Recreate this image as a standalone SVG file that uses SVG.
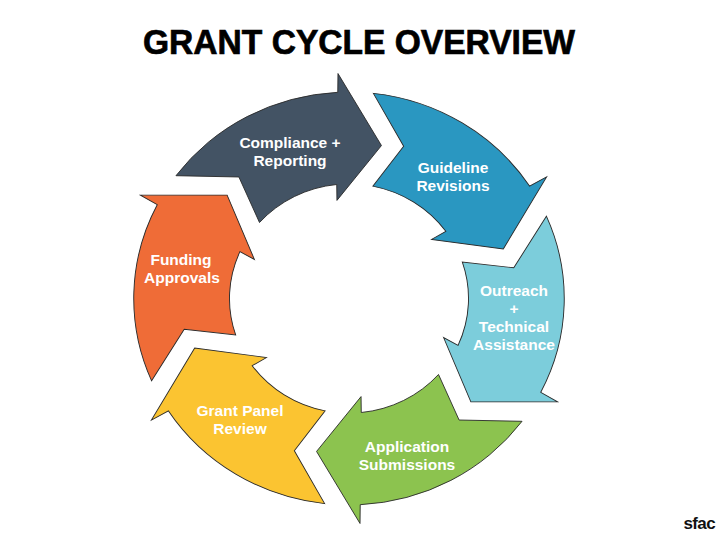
<svg xmlns="http://www.w3.org/2000/svg" xmlns:xlink="http://www.w3.org/1999/xlink" width="720" height="540" viewBox="0 0 720 540">
  <defs>
    <path id="seg" d="M -168.0 -124.3 A 209 209 0 0 1 -10.9 -208.7 L -10.7 -227.7 L 31.5 -154.8 L -11.7 -99.3 L -11.9 -115.4 A 116 116 0 0 0 -86.9 -76.9 L -106.9 -123.0 Z"/>
    <style>
      .shape { stroke: #2a2a2a; stroke-width: 0.9; stroke-linejoin: miter; vector-effect: non-scaling-stroke; }
      .lbl { font-family: "Liberation Sans", Arial, sans-serif; font-weight: bold; font-size: 15.5px; fill: #ffffff; text-anchor: middle; }
      .title { font-family: "Liberation Sans", Arial, sans-serif; font-weight: bold; font-size: 35px; fill: #000000; stroke: #000000; stroke-width: 0.7; text-anchor: middle; }
      .logo { font-family: "Liberation Sans", Arial, sans-serif; font-weight: bold; font-size: 17px; fill: #111111; text-anchor: end; letter-spacing: -0.6px; }
    </style>
  </defs>
  <rect width="720" height="540" fill="#ffffff"/>
  <text class="title" x="359" y="54" textLength="432" lengthAdjust="spacingAndGlyphs">GRANT CYCLE OVERVIEW</text>

  <g id="connectors"></g>

  <g transform="translate(349 298.5) scale(1.03 0.988)">
    <g id="node-compliance">
      <use xlink:href="#seg" href="#seg" class="shape" fill="#435364"/>
    </g>
    <g id="node-guideline">
      <use xlink:href="#seg" href="#seg" class="shape" fill="#2A97C1" transform="rotate(60)"/>
    </g>
    <g id="node-outreach">
      <use xlink:href="#seg" href="#seg" class="shape" fill="#7CCDDB" transform="rotate(120)"/>
    </g>
    <g id="node-application">
      <use xlink:href="#seg" href="#seg" class="shape" fill="#8CC34F" transform="rotate(180)"/>
    </g>
    <g id="node-panel">
      <use xlink:href="#seg" href="#seg" class="shape" fill="#FBC431" transform="rotate(240)"/>
    </g>
    <g id="node-funding">
      <use xlink:href="#seg" href="#seg" class="shape" fill="#EF6C37" transform="rotate(300)"/>
    </g>
  </g>

  <g id="labels">
    <text class="lbl" x="290" y="148">Compliance +</text>
    <text class="lbl" x="290" y="166">Reporting</text>
    <text class="lbl" x="453" y="173">Guideline</text>
    <text class="lbl" x="453" y="191">Revisions</text>
    <text class="lbl" x="514" y="296">Outreach</text>
    <text class="lbl" x="514" y="314">+</text>
    <text class="lbl" x="514" y="332">Technical</text>
    <text class="lbl" x="514" y="350">Assistance</text>
    <text class="lbl" x="407" y="452">Application</text>
    <text class="lbl" x="407" y="470">Submissions</text>
    <text class="lbl" x="240" y="416">Grant Panel</text>
    <text class="lbl" x="240" y="434">Review</text>
    <text class="lbl" x="181" y="265">Funding</text>
    <text class="lbl" x="182" y="283">Approvals</text>
  </g>

  <text class="logo" x="715" y="529">sfac</text>
</svg>
